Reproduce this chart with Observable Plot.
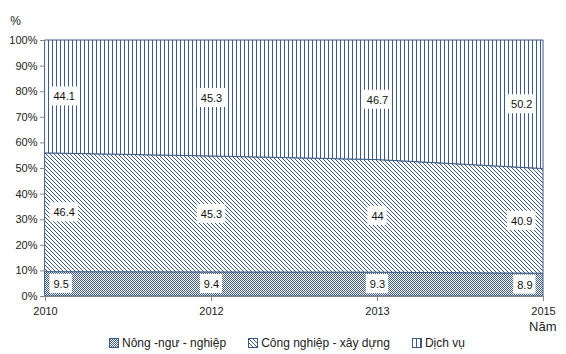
<!DOCTYPE html>
<html><head><meta charset="utf-8">
<script src="https://cdn.jsdelivr.net/npm/d3@7"></script>
<script src="https://cdn.jsdelivr.net/npm/@observablehq/plot@0.6"></script>
<style>
body{margin:0;background:#fff;font-family:"Liberation Sans",Arial,sans-serif;}
#chart{width:566px;height:354px;position:relative;overflow:hidden}
#legend{display:flex;justify-content:center;gap:22px;height:22px;align-items:center;font-size:12px;color:#222;padding-left:8px}
#legend .item{display:flex;align-items:center;gap:3px}
</style></head><body><div id="chart"></div>
<script>
const years = ["2010", "2012", "2013", "2015"];
const sectors = ["Nông -ngư - nghiệp", "Công nghiệp - xây dựng", "Dịch vụ"];
const nong = [9.5, 9.4, 9.3, 8.9];
const cong = [46.4, 45.3, 44, 40.9];
const dichvu = [44.1, 45.3, 46.7, 50.2];
const yTicks = [0, 10, 20, 30, 40, 50, 60, 70, 80, 90, 100];
const yUnit = "%";
const xUnit = "Năm";
const patternIds = ["pat-checker", "pat-diag", "pat-vert"];

const lineColor = "#3d5b88";
const data = [];
[nong, cong, dichvu].forEach((arr, si) => arr.forEach((v, i) => data.push({year: years[i], sector: sectors[si], value: v, idx: i})));

const stackOpts = (extra) => Plot.stackY({x: "year", y: "value", z: "sector", order: sectors, ...extra});
const lastIdx = years.length - 1;

const plot = Plot.plot({
  width: 566,
  height: 332,
  marginLeft: 45,
  marginRight: 23,
  marginTop: 40,
  marginBottom: 36,
  style: {fontFamily: "'Liberation Sans', Arial, sans-serif", fontSize: "11px", color: "#222"},
  x: {type: "point", domain: years, padding: 0},
  y: {domain: [0, 100]},
  color: {domain: sectors, range: patternIds.map(id => `url(#${id})`)},
  marks: [
    Plot.areaY(data, stackOpts({fill: "sector", stroke: lineColor, strokeWidth: 1})),
    Plot.ruleY([0], {stroke: "#868686"}),
    Plot.axisY({ticks: yTicks, tickFormat: d => d + "%", tickSize: 5, stroke: "#868686", tickPadding: 3, label: null}),
    Plot.axisX({tickSize: 5, stroke: "#868686", tickPadding: 6, label: null}),
    Plot.text([yUnit], {frameAnchor: "top-left", text: d => d, dx: -30, dy: -24, textAnchor: "middle", fontSize: 12, fill: "#222"}),
    Plot.text([xUnit], {frameAnchor: "bottom-right", text: d => d, dx: 13, dy: 34, textAnchor: "end", fontSize: 13, fill: "#222"}),
    Plot.text(data.filter(d => d.idx === 0), stackOpts({text: d => String(d.value), textAnchor: "start", dx: 8, className: "lbl", fill: "#111"})),
    Plot.text(data.filter(d => d.idx > 0 && d.idx < lastIdx), stackOpts({text: d => String(d.value), textAnchor: "middle", className: "lbl", fill: "#111"})),
    Plot.text(data.filter(d => d.idx === lastIdx), stackOpts({text: d => String(d.value), textAnchor: "end", dx: -11, className: "lbl", fill: "#111"}))
  ]
});

const defsHtml = `
<pattern id="pat-vert" patternUnits="userSpaceOnUse" width="4" height="4">
  <rect width="4" height="4" fill="#fff"/>
  <rect x="0" y="0" width="1" height="4" fill="${lineColor}"/>
</pattern>
<pattern id="pat-diag" patternUnits="userSpaceOnUse" width="4" height="4">
  <rect width="4" height="4" fill="#fff"/>
  <path d="M-1,-1 L5,5 M3,-1 L5,1 M-1,3 L1,5" stroke="${lineColor}" stroke-width="1"/>
</pattern>
<pattern id="pat-checker" patternUnits="userSpaceOnUse" width="2" height="2">
  <rect width="2" height="2" fill="#fff"/>
  <rect x="0" y="0" width="1" height="1" fill="${lineColor}"/>
  <rect x="1" y="1" width="1" height="1" fill="${lineColor}"/>
</pattern>`;
const defs = document.createElementNS("http://www.w3.org/2000/svg", "defs");
defs.innerHTML = defsHtml;
plot.insertBefore(defs, plot.firstChild);

const chart = document.getElementById("chart");
chart.appendChild(plot);

// white boxes behind labels
plot.querySelectorAll(".lbl text").forEach(t => {
  const b = t.getBBox();
  const r = document.createElementNS("http://www.w3.org/2000/svg", "rect");
  r.setAttribute("x", b.x - 4);
  r.setAttribute("y", b.y - 4);
  r.setAttribute("width", b.width + 7);
  r.setAttribute("height", b.height + 7);
  r.setAttribute("fill", "#fff");
  if (t.getAttribute("transform")) r.setAttribute("transform", t.getAttribute("transform"));
  t.parentNode.insertBefore(r, t);
});

// legend
const legend = document.createElement("div");
legend.id = "legend";
sectors.forEach((s, i) => {
  const item = document.createElement("div");
  item.className = "item";
  item.innerHTML = `<svg width="10" height="10"><rect x="0.5" y="0.5" width="9" height="9" fill="url(#${patternIds[i]})" stroke="${lineColor}"/></svg><span>${s}</span>`;
  legend.appendChild(item);
});
chart.appendChild(legend);
</script></body></html>
